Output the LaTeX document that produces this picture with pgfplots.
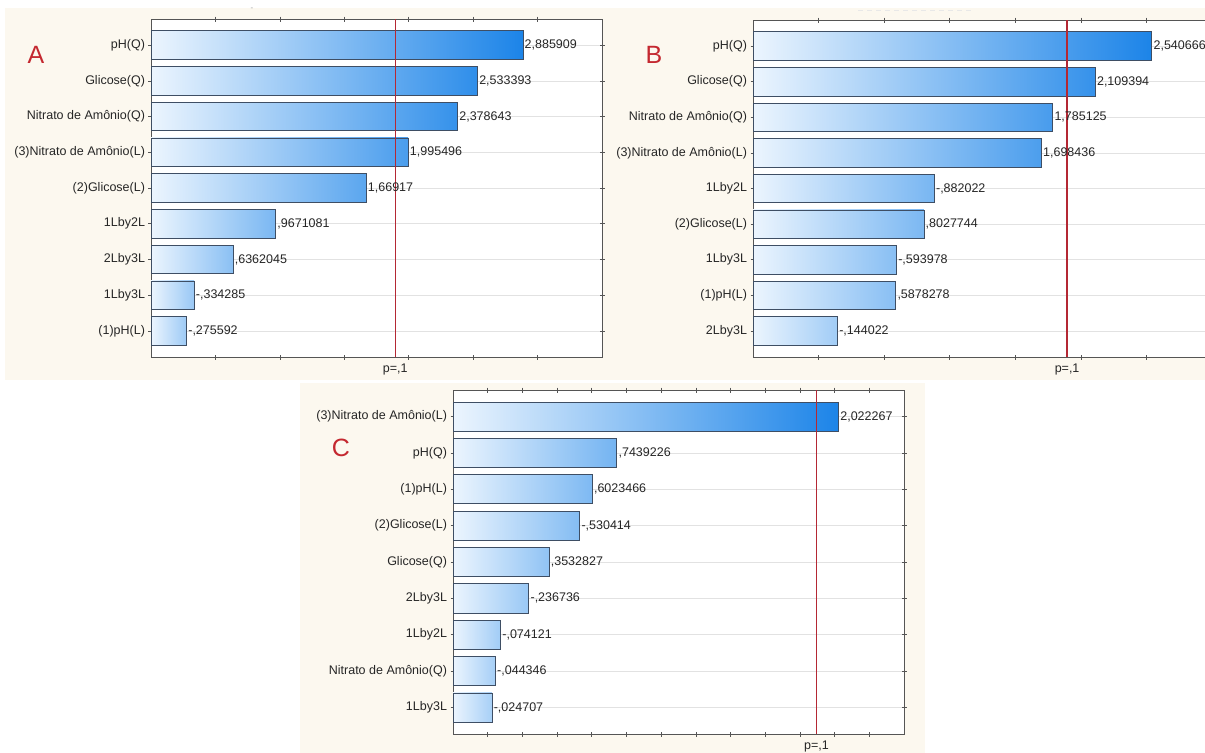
\documentclass[border=0pt]{standalone}
\usepackage{pgfplots}
\pgfplotsset{compat=1.18}
\usepackage{fontspec}
\setmainfont{Liberation Sans}
\definecolor{beige}{RGB}{252,248,239}
\definecolor{barlight}{RGB}{236,245,254}
\definecolor{barblue}{RGB}{28,132,232}
\definecolor{bardraw}{RGB}{62,78,100}
\definecolor{framegray}{RGB}{85,85,85}
\definecolor{gridgray}{RGB}{226,226,226}
\definecolor{plinecol}{RGB}{180,40,52}
\definecolor{letterred}{RGB}{196,40,48}
\newcommand{\lbl}{\fontsize{12.5bp}{14bp}\selectfont}
\newcommand{\pbar}[4]{\addplot[pbar, right color=barblue!#3!barlight, nodes near coords={#4}] coordinates {(#1,#2)};}
\pgfplotsset{
  pbar/.style={xbar, bar shift=0pt, bar width=0.8, draw=bardraw, line width=0.7bp,
    left color=barlight,
    every node near coord/.append style={font=\lbl, inner sep=1.5bp, text=black!85, anchor=west}},
  pline/.style={draw=plinecol, color=plinecol, line width=1.3bp, forget plot},
  pareto/.style={scale only axis, y dir=reverse, ymin=0.27, ymax=9.73, ytick={1,...,9},
    xticklabels={}, axis line style={draw=framegray, line width=0.8bp},
    ymajorgrids, major grid style={draw=gridgray, line width=0.6bp},
    tick style={draw=framegray, line width=0.6bp}, major tick length=5bp, tick align=center,
    yticklabel style={font=\lbl, text=black!85},
    extra x tick labels={p={,}1},
    extra x tick style={major tick length=0pt, grid=none, xticklabel style={font=\lbl, text=black!85, yshift=-3bp}},
    axis background/.style={fill=white}, clip=false},
}
\begin{document}
\begin{tikzpicture}
\useasboundingbox (0bp,0bp) rectangle (1205bp,-753bp);
\clip (0bp,0bp) rectangle (1205bp,-753bp);
\fill[white] (0bp,0bp) rectangle (1205bp,-753bp);
\fill[beige] (5bp,-8bp) rectangle (1205bp,-380bp);
\fill[beige] (300bp,-383bp) rectangle (925bp,-753bp);
\node[text=black!35, font=\fontsize{8bp}{9bp}\selectfont] at (252bp,-9bp) {-};
\draw[black!9, line width=1bp, dash pattern=on 5bp off 4bp] (858bp,-10bp) -- (972bp,-10bp);

% Panel A
\begin{axis}[pareto, at={(151bp,-19bp)}, anchor=north west, width=451bp, height=338bp,
  xmin=0, xmax=3.5, xtick={0.5,1,...,3}, extra x ticks={1.895},
  yticklabels={pH(Q),Glicose(Q),Nitrato de Amônio(Q),(3)Nitrato de Amônio(L),(2)Glicose(L),1Lby2L,2Lby3L,1Lby3L,(1)pH(L)}]
\pbar{2.885909}{1}{100}{2,885909}
\pbar{2.533393}{2}{91}{2,533393}
\pbar{2.378643}{3}{88}{2,378643}
\pbar{1.995496}{4}{78}{1,995496}
\pbar{1.66917}{5}{70}{1,66917}
\pbar{0.9671081}{6}{55}{,9671081}
\pbar{0.6362045}{7}{47}{,6362045}
\pbar{0.334285}{8}{40}{-,334285}
\pbar{0.275592}{9}{38}{-,275592}
\addplot[pline] coordinates {(1.895,0.27) (1.895,9.73)};
\end{axis}

% Panel B (axis starts at -0.5: plotted shifted by +0.5)
\begin{axis}[pareto, at={(753bp,-20bp)}, anchor=north west, width=459bp, height=337bp,
  xmin=0, xmax=3.5, xtick={0.5,1,...,3}, extra x ticks={2.395},
  every axis plot/.append style={x filter/.expression={x+0.5}},
  yticklabels={pH(Q),Glicose(Q),Nitrato de Amônio(Q),(3)Nitrato de Amônio(L),1Lby2L,(2)Glicose(L),1Lby3L,(1)pH(L),2Lby3L}]
\pbar{2.540666}{1}{100}{2,540666}
\pbar{2.109394}{2}{88}{2,109394}
\pbar{1.785125}{3}{79}{1,785125}
\pbar{1.698436}{4}{77}{1,698436}
\pbar{0.882022}{5}{56}{-,882022}
\pbar{0.8027744}{6}{54}{,8027744}
\pbar{0.593978}{7}{48}{-,593978}
\pbar{0.5878278}{8}{48}{,5878278}
\pbar{0.144022}{9}{36}{-,144022}
\addplot[pline] coordinates {(1.895,0.27) (1.895,9.73)};
\end{axis}

% Panel C (axis starts at -0.2: plotted shifted by +0.2)
\begin{axis}[pareto, at={(453bp,-390bp)}, anchor=north west, width=451bp, height=344bp,
  xmin=0, xmax=2.6, xtick={0.2,0.4,...,2.41}, extra x ticks={2.095},
  every axis plot/.append style={x filter/.expression={x+0.2}},
  yticklabels={(3)Nitrato de Amônio(L),pH(Q),(1)pH(L),(2)Glicose(L),Glicose(Q),2Lby3L,1Lby2L,Nitrato de Amônio(Q),1Lby3L}]
\pbar{2.022267}{1}{100}{2,022267}
\pbar{0.7439226}{2}{58}{,7439226}
\pbar{0.6023466}{3}{53}{,6023466}
\pbar{0.530414}{4}{50}{-,530414}
\pbar{0.3532827}{5}{44}{,3532827}
\pbar{0.236736}{6}{40}{-,236736}
\pbar{0.074121}{7}{36}{-,074121}
\pbar{0.044346}{8}{34}{-,044346}
\pbar{0.024707}{9}{33}{-,024707}
\addplot[pline] coordinates {(1.895,0.27) (1.895,9.73)};
\end{axis}

\node[text=letterred, font=\fontsize{25bp}{28bp}\selectfont] at (36bp,-55bp) {A};
\node[text=letterred, font=\fontsize{25bp}{28bp}\selectfont] at (654bp,-55bp) {B};
\node[text=letterred, font=\fontsize{25bp}{28bp}\selectfont] at (341bp,-448bp) {C};
\end{tikzpicture}
\end{document}
